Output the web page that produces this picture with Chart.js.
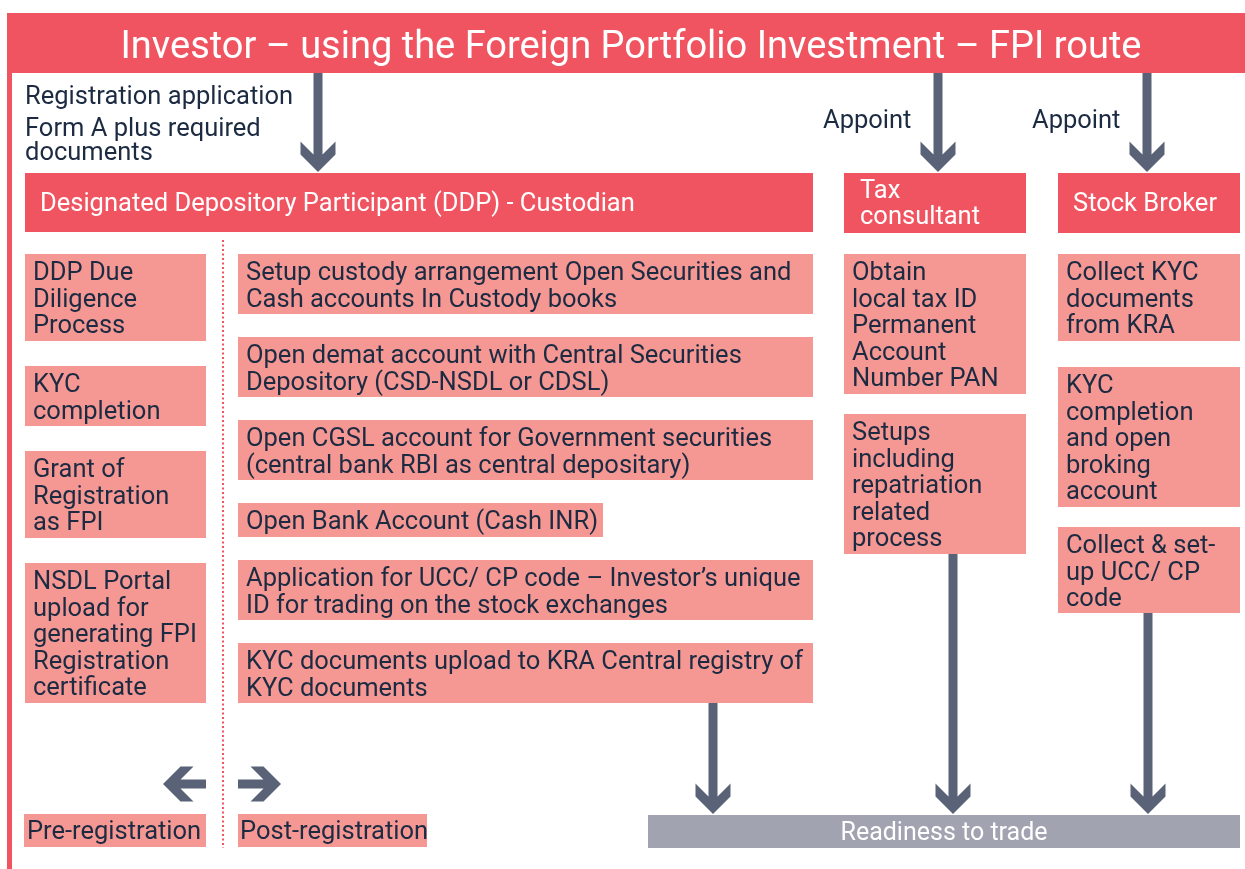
<!DOCTYPE html>
<html>
<head>
<meta charset="utf-8">
<script src="https://cdn.jsdelivr.net/npm/chart.js@4.4.1/dist/chart.umd.min.js"></script>
<style>
  html, body { margin: 0; padding: 0; background: #fff; }
  #flow { display: block; }
</style>
</head>
<body>
<canvas id="flow" width="1245" height="869"></canvas>
<script>
// texts of the diagram
var titleText = "Investor \u2013 using the Foreign Portfolio Investment \u2013 FPI route";
var registrationNote = ["Registration application", "Form A plus required", "documents"];
var appointLabel = "Appoint";
var ddpLabel = ["Designated Depository Participant (DDP) - Custodian"];
var taxLabel = ["Tax", "consultant"];
var brokerLabel = ["Stock Broker"];
var preSteps = [
	["DDP Due", "Diligence", "Process"],
	["KYC", "completion"],
	["Grant of", "Registration", "as FPI"],
	["NSDL Portal", "upload for", "generating FPI", "Registration", "certificate"]
];
var postSteps = [
	["Setup custody arrangement Open Securities and", "Cash accounts In Custody books"],
	["Open demat account with Central Securities", "Depository (CSD-NSDL or CDSL)"],
	["Open CGSL account for Government securities", "(central bank RBI as central depositary)"],
	["Open Bank Account (Cash INR)"],
	["Application for UCC/ CP code \u2013 Investor\u2019s unique", "ID for trading on the stock exchanges"],
	["KYC documents upload to KRA Central registry of", "KYC documents"]
];
var taxSteps = [
	["Obtain", "local tax ID", "Permanent", "Account", "Number PAN"],
	["Setups", "including", "repatriation", "related", "process"]
];
var brokerSteps = [
	["Collect KYC", "documents", "from KRA"],
	["KYC", "completion", "and open", "broking", "account"],
	["Collect & set-", "up UCC/ CP", "code"]
];
var phaseLabels = ["Pre-registration", "Post-registration"];
var outcomeLabel = "Readiness to trade";

var RED = "#f05461", SALMON = "#f59893", NAVY = "#1c2b42", ARROW = "#5a6277", GREY = "#a1a3b1";
var FONT = "Roboto, 'Noto Sans', sans-serif";
var BODY = 25.5;

// layout in diagram units (x: 0..1245, y: 0..869)
var preRows = [[254, 341], [366, 426], [451, 538], [563, 703]];
var postRows = [[254, 314], [337, 397], [420, 480], [503, 537], [560, 620], [643, 703]];
var taxRows = [[254, 394], [414, 554]];
var brokerRows = [[254, 341], [367, 507], [527, 613]];

var diagram = {
	id: 'diagram',
	afterDraw: function(chart) {
		var c = chart.ctx, sx = chart.scales.x, sy = chart.scales.y;
		function px(v) { return sx.getPixelForValue(v); }
		function py(v) { return sy.getPixelForValue(v); }
		function rect(x0, y0, x1, y1, col) {
			c.fillStyle = col;
			c.fillRect(px(x0), py(y0), px(x1) - px(x0), py(y1) - py(y0));
		}
		function text(lines, x, y, lh, col, size, align, fam) {
			c.fillStyle = col;
			c.font = size + "px " + (fam || FONT);
			c.textAlign = align || 'left';
			c.textBaseline = 'alphabetic';
			lines.forEach(function(l, i) { c.fillText(l, px(x), py(y + i * lh)); });
		}
		// arrow from (x0,y0) to tip (x1,y1), axis aligned
		function arrow(x0, y0, x1, y1) {
			var w = 4.5, h = 17.5, t = 13;
			var ax = px(x0), ay = py(y0), bx = px(x1), by = py(y1);
			var len = Math.hypot(bx - ax, by - ay);
			c.save();
			c.translate(ax, ay);
			c.rotate(Math.atan2(by - ay, bx - ax) - Math.PI / 2);
			c.fillStyle = ARROW;
			c.beginPath();
			c.moveTo(-w, 0);
			c.lineTo(-w, len - t - w);
			c.lineTo(-h, len - h - t);
			c.lineTo(-h, len - h);
			c.lineTo(0, len);
			c.lineTo(h, len - h);
			c.lineTo(h, len - h - t);
			c.lineTo(w, len - t - w);
			c.lineTo(w, 0);
			c.closePath();
			c.fill();
			c.restore();
		}
		function column(steps, rows, x0, x1, rights) {
			steps.forEach(function(lines, i) {
				var r = rows[i], right = rights && rights[i] ? rights[i] : x1;
				rect(x0, r[0], right, r[1], SALMON);
				text(lines, x0 + 8, r[0] + 26, 26.5, NAVY, BODY);
			});
		}

		c.save();
		// title bar and left rule
		rect(7, 13, 1245, 73, RED);
		rect(7, 73, 12, 869, RED);
		text([titleText], 631, 58, 0, "#ffffff", 38, 'center');

		text(registrationNote.slice(0, 1), 25, 104, 0, NAVY, BODY);
		text(registrationNote.slice(1), 25, 136, 23.5, NAVY, BODY);
		text([appointLabel], 823, 128, 0, NAVY, BODY);
		text([appointLabel], 1032, 128, 0, NAVY, BODY);

		// heads
		rect(25, 173, 813, 232, RED);
		text(ddpLabel, 40, 211, 0, "#ffffff", BODY);
		rect(844, 173, 1026, 233, RED);
		text(taxLabel, 860, 198, 26, "#ffffff", BODY);
		rect(1058, 173, 1240, 233, RED);
		text(brokerLabel, 1073, 211, 0, "#ffffff", BODY);

		arrow(318, 73, 318, 172);
		arrow(938, 73, 938, 172);
		arrow(1147, 73, 1147, 172);

		// step columns
		column(preSteps, preRows, 25, 206);
		column(postSteps, postRows, 238, 813, [0, 0, 0, 603, 0, 0]);
		column(taxSteps, taxRows, 844, 1026);
		column(brokerSteps, brokerRows, 1058, 1240);

		// dotted divider
		c.strokeStyle = RED;
		c.lineWidth = 2;
		c.setLineDash([2, 2.5]);
		c.beginPath();
		c.moveTo(px(223), py(240));
		c.lineTo(px(223), py(848));
		c.stroke();
		c.setLineDash([]);

		arrow(713, 703, 713, 814);
		arrow(953, 554, 953, 814);
		arrow(1148, 613, 1148, 814);

		// phase arrows and labels
		arrow(206, 784, 163, 784);
		arrow(238, 784, 281, 784);
		rect(24, 814, 206, 847, SALMON);
		rect(238, 814, 427, 847, SALMON);
		text([phaseLabels[0]], 27, 839, 0, NAVY, BODY);
		text([phaseLabels[1]], 240, 839, 0, NAVY, BODY);

		// outcome bar
		rect(648, 815, 1240, 848, GREY);
		text([outcomeLabel], 944, 840, 0, "#ffffff", 25, 'center', "'Liberation Sans Narrow', Roboto, sans-serif");
		c.restore();
	}
};

new Chart(document.getElementById("flow").getContext("2d"), {
	type: 'scatter',
	data: { datasets: [{ data: [], showLine: false }] },
	options: {
		responsive: false,
		animation: false,
		layout: { padding: 0 },
		plugins: { legend: { display: false }, tooltip: { enabled: false }, title: { display: false } },
		scales: {
			x: { type: 'linear', min: 0, max: 1245, display: false },
			y: { type: 'linear', min: 0, max: 869, reverse: true, display: false }
		}
	},
	plugins: [diagram]
});
</script>
</body>
</html>
